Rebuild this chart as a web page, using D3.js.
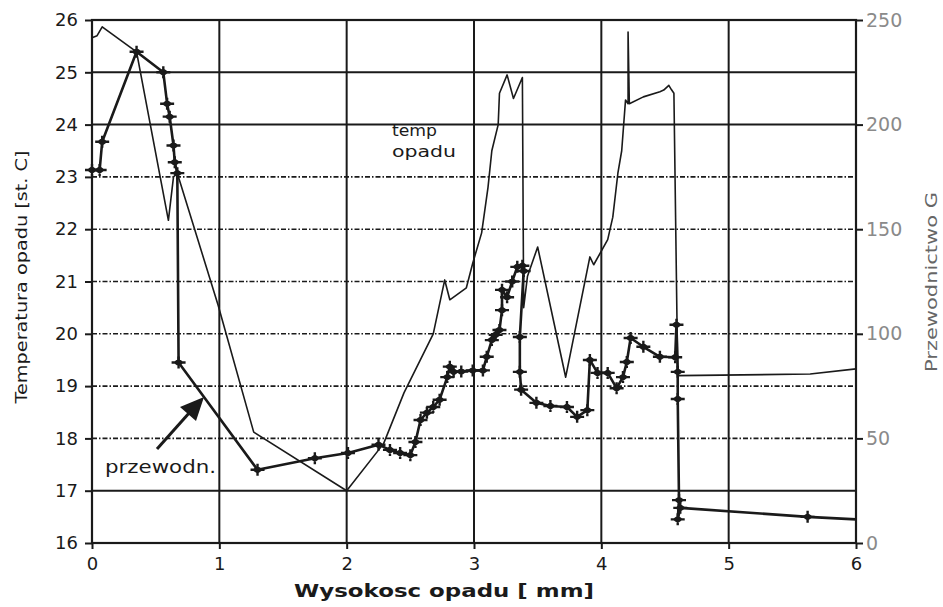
<!DOCTYPE html>
<html>
<head>
<meta charset="utf-8">
<script src="https://cdn.jsdelivr.net/npm/d3@7"></script>
<style>
  body { margin: 0; background: #fff; }
  svg { display: block; font-family: "DejaVu Sans", sans-serif; }
</style>
</head>
<body>
<div id="chart"></div>
<script>
// temperature of precipitation [st. C] (left axis)
const tempX = [0, 0.04, 0.08, 0.35, 0.6, 0.64, 0.67, 0.99, 1.27, 2.0, 2.29, 2.45, 2.68, 2.77, 2.81, 2.94,
  2.99, 3.06, 3.11, 3.14, 3.19, 3.2, 3.26, 3.31, 3.38, 3.39, 3.42, 3.5, 3.72, 3.91, 3.94, 4.05, 4.09, 4.13,
  4.16, 4.19, 4.21, 4.21, 4.22, 4.33, 4.46, 4.49, 4.53, 4.55, 4.57, 4.6, 5.64, 6.0];
const tempY = [25.66, 25.7, 25.87, 25.39, 22.17, 23.0, 23.07, 20.55, 18.12, 17.0, 17.9, 18.87, 20.0, 21.03, 20.65, 20.88,
  21.35, 21.93, 22.8, 23.5, 24.0, 24.6, 24.95, 24.5, 24.9, 20.5, 21.1, 21.66, 19.17, 21.47, 21.32, 21.8, 22.23, 23.07,
  23.5, 24.47, 24.4, 25.77, 24.4, 24.53, 24.63, 24.66, 24.75, 24.67, 24.6, 19.2, 19.23, 19.33];

// conductivity G (right axis)
const condX = [0, 0.06, 0.08, 0.35, 0.56, 0.59, 0.61, 0.64, 0.65, 0.67, 0.68, 1.3, 1.75, 2.01, 2.25, 2.34, 2.42, 2.5,
  2.54, 2.58, 2.63, 2.68, 2.73, 2.79, 2.81, 2.84, 2.9, 2.99, 3.07, 3.1, 3.14, 3.17, 3.2, 3.22, 3.22, 3.26, 3.3, 3.34,
  3.38, 3.39, 3.36, 3.36, 3.37, 3.49, 3.6, 3.73, 3.81, 3.89, 3.91, 3.97, 4.05, 4.12, 4.17, 4.2, 4.23, 4.33, 4.46,
  4.58, 4.59, 4.6, 4.6, 4.61, 4.6, 4.62, 5.62, 6.0];
const condY = [178.3, 178.3, 191.8, 234.8, 225, 210, 203.8, 190, 182, 176.8, 86.3, 35, 40.5, 43, 47, 44.5, 43, 42,
  48.3, 58.8, 62.3, 65, 68.5, 79.3, 84.3, 81.8, 82, 82.5, 82.5, 89, 97, 99.5, 101.8, 111.3, 121, 117.5, 125, 132,
  132.5, 130, 98.5, 81.8, 73.3, 67, 65.5, 65, 60.3, 63.5, 87.5, 81.3, 81.3, 74, 79.3, 86.5, 98, 93.8, 89,
  88.8, 104.3, 81.8, 68.8, 20.5, 11.3, 16.8, 12.5, 11.3];

const xTicks = [0, 1, 2, 3, 4, 5, 6];
const tempTicks = [16, 17, 18, 19, 20, 21, 22, 23, 24, 25, 26];
const condTicks = [0, 50, 100, 150, 200, 250];
const solidRows = [17, 24, 25];

const width = 943, height = 607;
const svg = d3.select("#chart").append("svg")
  .attr("width", width).attr("height", height);

const x = d3.scaleLinear().domain([0, 6]).range([92, 856]);
const yT = d3.scaleLinear().domain([16, 26]).range([543, 20]);
const yG = d3.scaleLinear().domain([0, 250]).range([543, 20]);

const ink = "#1a1a1a";

// labels inside the plot (under the grid, as in the scan)
svg.append("text").attr("x", 392).attr("y", 136)
  .attr("font-size", 16).attr("fill", ink)
  .attr("textLength", 45).attr("lengthAdjust", "spacingAndGlyphs").text("temp");
svg.append("text").attr("x", 392).attr("y", 157)
  .attr("font-size", 16).attr("fill", ink)
  .attr("textLength", 64).attr("lengthAdjust", "spacingAndGlyphs").text("opadu");
svg.append("text").attr("x", 105).attr("y", 473)
  .attr("font-size", 17).attr("fill", ink)
  .attr("textLength", 111).attr("lengthAdjust", "spacingAndGlyphs").text("przewodn.");

// grid
const grid = svg.append("g");
grid.selectAll("line.v")
  .data(xTicks.slice(1, -1))
  .join("line")
  .attr("x1", d => x(d)).attr("x2", d => x(d))
  .attr("y1", yT(26)).attr("y2", yT(16))
  .attr("stroke", ink).attr("stroke-width", 2);

grid.selectAll("line.h")
  .data(tempTicks.slice(1, -1))
  .join("line")
  .attr("x1", x(0)).attr("x2", x(6))
  .attr("y1", d => yT(d)).attr("y2", d => yT(d))
  .attr("stroke", ink)
  .attr("stroke-width", d => solidRows.includes(d) ? 2 : 1.6)
  .attr("stroke-dasharray", d => solidRows.includes(d) ? null : "5,2,1.5,2");

// frame
svg.append("rect")
  .attr("x", x(0)).attr("y", yT(26))
  .attr("width", x(6) - x(0)).attr("height", yT(16) - yT(26))
  .attr("fill", "none").attr("stroke", ink).attr("stroke-width", 2.2);

// axes
const axL = svg.append("g").attr("transform", `translate(${x(0)},0)`)
  .call(d3.axisLeft(yT).tickValues(tempTicks).tickSize(7).tickPadding(7).tickFormat(d3.format("d")));
const axR = svg.append("g").attr("transform", `translate(${x(6)},0)`)
  .call(d3.axisRight(yG).tickValues(condTicks).tickSize(7).tickPadding(3).tickFormat(d3.format("d")));
const axB = svg.append("g").attr("transform", `translate(0,${yT(16)})`)
  .call(d3.axisBottom(x).tickValues(xTicks).tickSize(6).tickPadding(8).tickFormat(d3.format("d")));

[axL, axR, axB].forEach(a => {
  a.select(".domain").remove();
  a.selectAll(".tick line").attr("stroke", ink).attr("stroke-width", 2);
  a.selectAll(".tick text").attr("font-size", 18).attr("font-family", "DejaVu Sans, sans-serif").attr("fill", ink);
});
axR.selectAll(".tick text").attr("fill", "#8a8a8a").attr("font-size", 19);

// axis titles
svg.append("text")
  .attr("transform", "translate(27,277) rotate(-90)")
  .attr("text-anchor", "middle").attr("font-size", 16.5).attr("fill", ink)
  .attr("textLength", 253).attr("lengthAdjust", "spacingAndGlyphs")
  .text("Temperatura opadu [st. C]");
svg.append("text")
  .attr("transform", "translate(937,282) rotate(-90)")
  .attr("text-anchor", "middle").attr("font-size", 15.5).attr("fill", "#666")
  .attr("textLength", 180).attr("lengthAdjust", "spacingAndGlyphs")
  .text("Przewodnictwo G");
svg.append("text")
  .attr("x", 444).attr("y", 597)
  .attr("text-anchor", "middle").attr("font-size", 18).attr("font-weight", "bold").attr("fill", ink)
  .attr("textLength", 300).attr("lengthAdjust", "spacingAndGlyphs")
  .text("Wysokosc opadu [ mm]");

// temperature line
const temp = tempX.map((d, i) => ({ x: d, y: tempY[i] }));
const cond = condX.map((d, i) => ({ x: d, y: condY[i] }));

svg.append("path")
  .datum(temp)
  .attr("fill", "none").attr("stroke", ink).attr("stroke-width", 1.6)
  .attr("stroke-linejoin", "round")
  .attr("d", d3.line().x(d => x(d.x)).y(d => yT(d.y)));

// conductivity line with "+" markers
svg.append("path")
  .datum(cond)
  .attr("fill", "none").attr("stroke", ink).attr("stroke-width", 2.6)
  .attr("stroke-linejoin", "round")
  .attr("d", d3.line().x(d => x(d.x)).y(d => yG(d.y)));

svg.append("g").selectAll("path")
  .data(cond.slice(0, -1))
  .join("path")
  .attr("transform", d => `translate(${x(d.x)},${yG(d.y)})`)
  .attr("d", "M-7,0H7M0,-6V6M-3.5,0L0,-2.5L3.5,0L0,2.5Z")
  .attr("fill", ink).attr("stroke", ink).attr("stroke-width", 2.4);

// arrow to the conductivity line
svg.append("line")
  .attr("x1", 157).attr("y1", 449).attr("x2", 190).attr("y2", 412)
  .attr("stroke", ink).attr("stroke-width", 3);
svg.append("path")
  .attr("d", "M204,397 L196,421 L180,407 Z")
  .attr("fill", ink);
</script>
</body>
</html>
